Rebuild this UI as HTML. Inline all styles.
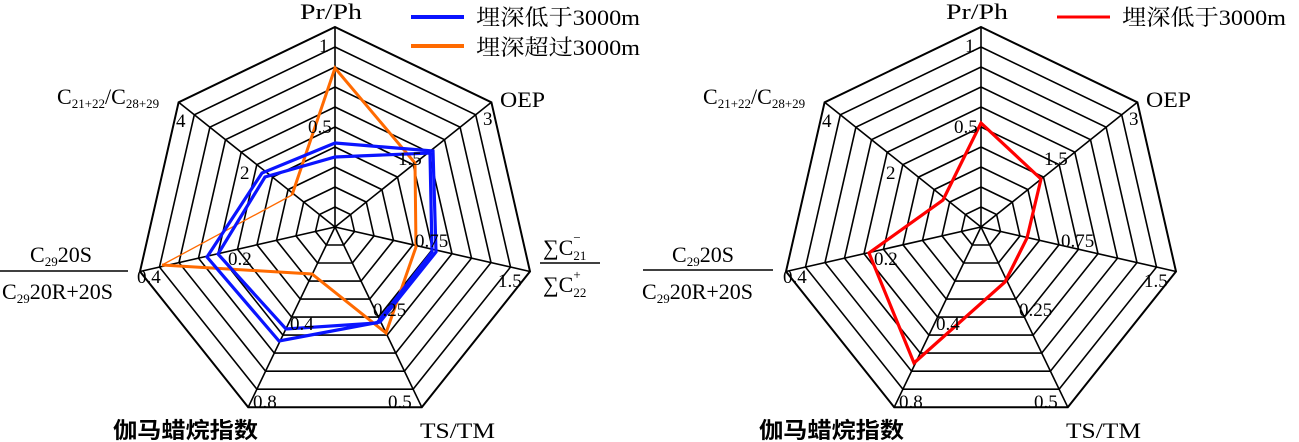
<!DOCTYPE html>
<html><head><meta charset="utf-8"><style>
html,body{margin:0;padding:0;background:#fff;}
svg{display:block;font-family:"Liberation Serif","Noto Serif CJK SC",serif;}
</style></head><body>
<svg id="s" width="1299" height="442" viewBox="0 0 1299 442" xmlns="http://www.w3.org/2000/svg">
<g id="grid" fill="none" stroke="#000" stroke-width="1.6"></g>
<polyline points="292,195 162,265" fill="none" stroke="#ff6a00" stroke-width="1.3"/>
<polyline points="162,265 312,274 386,333 416,247 415,163 335,68 292,195" fill="none" stroke="#ff6a00" stroke-width="3" stroke-linejoin="miter"/>
<polygon points="335,143 433,151 436,252 380,322 279,341 207,257 262,173" fill="none" stroke="#0a14ff" stroke-width="3.2"/>
<polygon points="335,157 430,153 432,252 377,323 286,329 218,254 265,177" fill="none" stroke="#0a14ff" stroke-width="3.2"/>
<polygon points="981,123 1041,179 1027,238 1005,282 914,363 869,253 943,200" fill="none" stroke="#ff0000" stroke-width="3.2"/>
<g font-size="19" fill="#000" id="labels"></g>
<g font-size="22" fill="#000">
<text x="300" y="19" textLength="62" lengthAdjust="spacingAndGlyphs">Pr/Ph</text>
<text x="946" y="19" textLength="62" lengthAdjust="spacingAndGlyphs">Pr/Ph</text>
<text x="500" y="107" textLength="45" lengthAdjust="spacingAndGlyphs">OEP</text>
<text x="1146" y="107" textLength="45" lengthAdjust="spacingAndGlyphs">OEP</text>
<text x="57" y="104">C<tspan font-size="13" dy="4">21+22</tspan><tspan dy="-4">/C</tspan><tspan font-size="13" dy="4">28+29</tspan></text>
<text x="703" y="104">C<tspan font-size="13" dy="4">21+22</tspan><tspan dy="-4">/C</tspan><tspan font-size="13" dy="4">28+29</tspan></text>
<text x="30" y="262">C<tspan font-size="13" dy="4">29</tspan><tspan dy="-4">20S</tspan></text>
<text x="2" y="299">C<tspan font-size="13" dy="4">29</tspan><tspan dy="-4">20R+20S</tspan></text>
<text x="672" y="262">C<tspan font-size="13" dy="4">29</tspan><tspan dy="-4">20S</tspan></text>
<text x="642" y="299">C<tspan font-size="13" dy="4">29</tspan><tspan dy="-4">20R+20S</tspan></text>
<text x="543" y="255">∑C<tspan font-size="13" dy="5">21</tspan><tspan font-size="13" dx="-13" dy="-18">−</tspan></text>
<text x="543" y="292">∑C<tspan font-size="13" dy="5">22</tspan><tspan font-size="13" dx="-13" dy="-18">+</tspan></text>
<text x="113" y="438" font-size="22" font-weight="bold" font-family="'Noto Sans CJK SC',sans-serif" textLength="145" lengthAdjust="spacingAndGlyphs">伽马蜡烷指数</text>
<text x="759" y="438" font-size="22" font-weight="bold" font-family="'Noto Sans CJK SC',sans-serif" textLength="145" lengthAdjust="spacingAndGlyphs">伽马蜡烷指数</text>
<text x="420" y="438" textLength="75" lengthAdjust="spacingAndGlyphs">TS/TM</text>
<text x="1066" y="438" textLength="75" lengthAdjust="spacingAndGlyphs">TS/TM</text>
<text x="476" y="25" textLength="164" lengthAdjust="spacingAndGlyphs">埋深低于3000m</text>
<text x="476" y="55" textLength="164" lengthAdjust="spacingAndGlyphs">埋深超过3000m</text>
<text x="1122" y="25" textLength="164" lengthAdjust="spacingAndGlyphs">埋深低于3000m</text>
</g>
<g stroke="#000" stroke-width="1.5">
<line x1="0" y1="271" x2="128" y2="271"/>
<line x1="643" y1="270" x2="773" y2="270"/>
<line x1="540" y1="263" x2="600" y2="263"/>
</g>
<line x1="411" y1="17" x2="464" y2="17" stroke="#0a14ff" stroke-width="4"/>
<line x1="411" y1="46" x2="464" y2="46" stroke="#ff6a00" stroke-width="4"/>
<line x1="1057" y1="17" x2="1110" y2="17" stroke="#ff0000" stroke-width="3"/>
</svg>
<script>
(function(){
var ns="http://www.w3.org/2000/svg";
var g=document.getElementById('grid');
var L=document.getElementById('labels');
[[335,227],[981,227]].forEach(function(c){
 var cx=c[0],cy=c[1],R=200;
 for(var k=1;k<=10;k++){
  var r=R*k/10,pts=[];
  for(var i=0;i<7;i++){var a=i*2*Math.PI/7;pts.push((cx+r*Math.sin(a)).toFixed(1)+","+(cy-r*Math.cos(a)).toFixed(1));}
  var p=document.createElementNS(ns,'polygon');p.setAttribute('points',pts.join(' '));
  if(k==10)p.setAttribute('stroke-width','2');
  g.appendChild(p);
 }
 for(var i=0;i<7;i++){var a=i*2*Math.PI/7;var l=document.createElementNS(ns,'line');
  l.setAttribute('x1',cx);l.setAttribute('y1',cy);l.setAttribute('x2',cx+R*Math.sin(a));l.setAttribute('y2',cy-R*Math.cos(a));g.appendChild(l);}
 var d=cx-335;
 [["1",319,52],["0.5",308,133],["3",483,125],["1.5",398,165],["0.75",415,247],["1.5",498,287],["0.25",373,316],["0.5",388,408],["0.8",253,408],["0.4",290,330],["0.4",137,283],["0.2",228,265],["2",240,179],["4",176,127]].forEach(function(t){
  var e=document.createElementNS(ns,'text');e.setAttribute('x',t[1]+d);e.setAttribute('y',t[2]);e.textContent=t[0];L.appendChild(e);});
});
})();
</script>
</body></html>
